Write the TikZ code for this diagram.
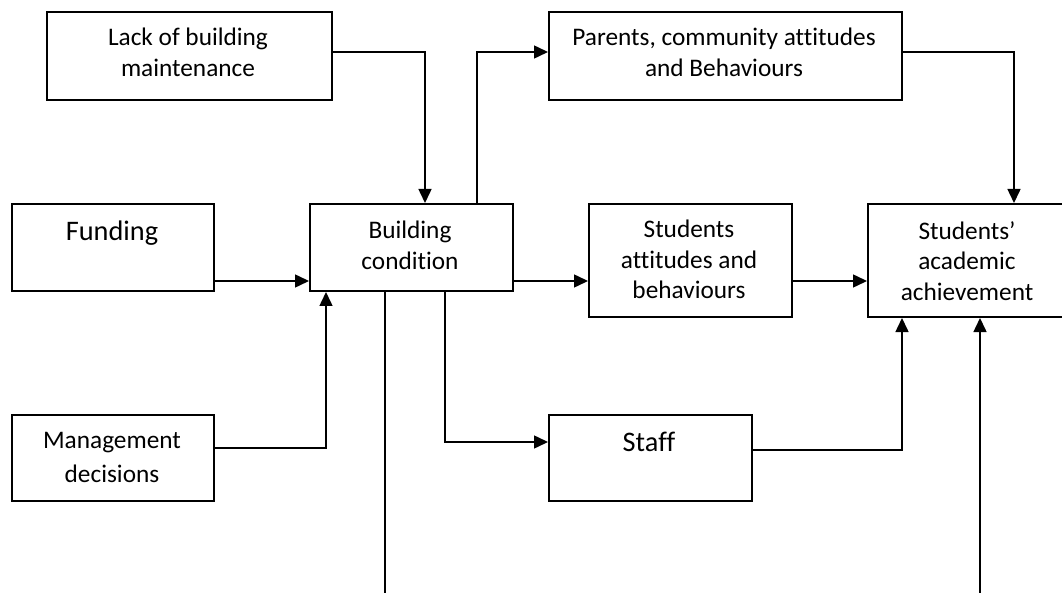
\documentclass[tikz,border=0pt]{standalone}
\usepackage{fontspec}
\setmainfont[Ligatures={NoCommon}]{Carlito}
\usetikzlibrary{arrows.meta}
\begin{document}
\begin{tikzpicture}[x=1pt,y=1pt,
  box/.style={draw,line width=2pt,anchor=north west,inner sep=0pt},
  txt/.style={anchor=north,inner sep=0pt,align=center,font=\fontsize{25.3}{30.5}\selectfont},
  bigtxt/.style={anchor=north,inner sep=0pt,align=center,font=\fontsize{28.3}{34}\selectfont},
  conn/.style={line width=1.5pt},
  arr/.style={conn,-{Triangle[length=14pt,width=13pt]}}]
\useasboundingbox (0,0) rectangle (1062,-593);
\clip (0,0) rectangle (1062,-593);
% boxes
\node[box,minimum width=285pt,minimum height=88pt] (lack) at (46,-11) {};
\node[box,minimum width=202pt,minimum height=87pt] (fund) at (11,-203) {};
\node[box,minimum width=203pt,minimum height=87pt] (build) at (309,-203) {};
\node[box,minimum width=353pt,minimum height=88pt] (par) at (548,-11) {};
\node[box,minimum width=203pt,minimum height=113pt] (satt) at (588,-203) {};
\node[box,minimum width=200pt,minimum height=113pt] (ach) at (867,-203) {};
\node[box,minimum width=202pt,minimum height=86pt] (mgmt) at (11,-414) {};
\node[box,minimum width=203pt,minimum height=86pt] (staff) at (548,-414) {};
% texts
\node[txt] (lackt) at (188,-28) {Lack of building\\maintenance};
\node[bigtxt] (fundt) at (112,-221) {Funding};
\node[txt] (buildt) at (410,-221) {Building\\condition};
\node[txt] (part) at (724,-28) {Parents, community attitudes\\and Behaviours};
\node[txt] (sattt) at (689,-220) {Students\\attitudes and\\behaviours};
\node[txt] (acht) at (967,-221) {Students’\\academic\\achievement};
\node[txt,font=\fontsize{25.3}{34.5}\selectfont] (mgmtt) at (112,-432) {Management\\decisions};
\node[bigtxt] (stafft) at (649,-432) {Staff};
% free ends
\coordinate (b1) at (385,-600);
\coordinate (b2) at (980,-600);
% connectors
\draw[arr] ([yshift=4pt]lack.east) -| ([xshift=13.5pt]build.north);
\draw[arr] ([xshift=65.5pt]build.north) |- ([yshift=4pt]par.west);
\draw[arr] ([yshift=4pt]par.east) -| ([xshift=46pt]ach.north);
\draw[arr] ([yshift=11pt]fund.south east) -- ([yshift=11pt]build.south west);
\draw[arr] ([yshift=11pt]build.south east) -- ([yshift=37pt]satt.south west);
\draw[arr] ([yshift=37pt]satt.south east) -- ([yshift=37pt]ach.south west);
\draw[arr] ([yshift=10pt]mgmt.east) -| ([xshift=17pt]build.south west);
\draw[arr] ([xshift=136pt]build.south west) |- ([yshift=16pt]staff.west);
\draw[arr] ([yshift=8pt]staff.east) -| ([xshift=35pt]ach.south west);
\draw[conn] ([xshift=76pt]build.south west) -- (b1);
\draw[arr] (b2) -- ([xshift=113pt]ach.south west);
\end{tikzpicture}
\end{document}
